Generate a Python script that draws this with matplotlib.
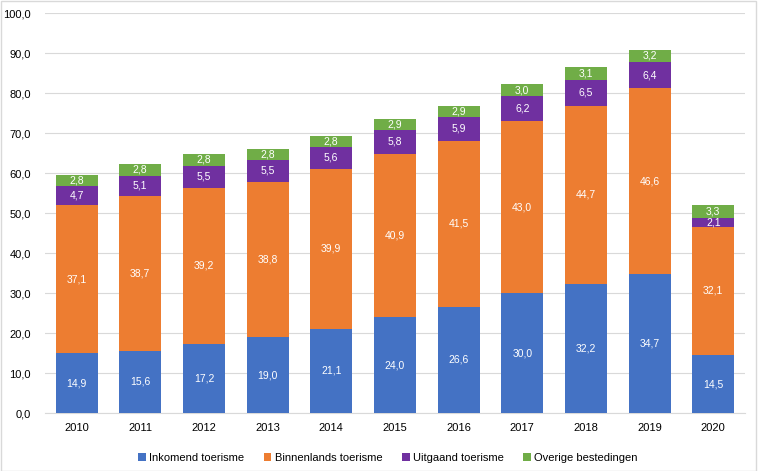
import numpy as np
import matplotlib.pyplot as plt
from matplotlib.patches import Rectangle

plt.rcParams['font.family'] = ['Liberation Sans', 'DejaVu Sans']

years = ["2010", "2011", "2012", "2013", "2014", "2015", "2016", "2017", "2018", "2019", "2020"]
inkomend = [14.9, 15.6, 17.2, 19.0, 21.1, 24.0, 26.6, 30.0, 32.2, 34.7, 14.5]
binnenlands = [37.1, 38.7, 39.2, 38.8, 39.9, 40.9, 41.5, 43.0, 44.7, 46.6, 32.1]
uitgaand = [4.7, 5.1, 5.5, 5.5, 5.6, 5.8, 5.9, 6.2, 6.5, 6.4, 2.1]
overig = [2.8, 2.8, 2.8, 2.8, 2.8, 2.9, 2.9, 3.0, 3.1, 3.2, 3.3]

series = [
    ("Inkomend toerisme", inkomend, "#4472C4"),
    ("Binnenlands toerisme", binnenlands, "#ED7D31"),
    ("Uitgaand toerisme", uitgaand, "#7030A0"),
    ("Overige bestedingen", overig, "#70AD47"),
]

fig = plt.figure(figsize=(7.58, 4.71), dpi=100)
ax = fig.add_axes([0.059, 0.123, 0.924, 0.849])

x = np.arange(len(years))
bottom = np.zeros(len(years))
for name, vals, color in series:
    vals = np.array(vals)
    ax.bar(x, vals, 0.66, bottom=bottom, color=color, label=name, zorder=3)
    for xi, b, v in zip(x, bottom, vals):
        ax.text(xi, b + v / 2, f"{v:.1f}".replace(".", ","), ha="center", va="center",
                color="white", fontsize=7.5, zorder=4)
    bottom += vals

ax.set_xlim(-0.5, 10.5)
ax.set_ylim(0, 100)
ax.set_yticks(np.arange(0, 101, 10))
ax.set_yticklabels([f"{v:.1f}".replace(".", ",") for v in np.arange(0, 101, 10)])
ax.set_xticks(x)
ax.set_xticklabels(years)
ax.tick_params(axis="both", length=0, labelsize=8, colors="#000000")
ax.tick_params(axis="y", pad=10)
ax.tick_params(axis="x", pad=7)
ax.yaxis.grid(True, color="#D9D9D9", linewidth=0.8, zorder=0)
for s in ["top", "right", "left"]:
    ax.spines[s].set_visible(False)
ax.spines["bottom"].set_color("#D9D9D9")

ax.legend(loc="upper center", bbox_to_anchor=(0.49, -0.075), ncol=4, frameon=False,
          fontsize=8, handlelength=0.7, handleheight=0.7, handletextpad=0.3, columnspacing=1.75)

fig.patches.append(Rectangle((0.001, 0.001), 0.997, 0.997, transform=fig.transFigure,
                             fill=False, edgecolor="#D9D9D9", linewidth=1))

fig.savefig("out.png", dpi=100)
